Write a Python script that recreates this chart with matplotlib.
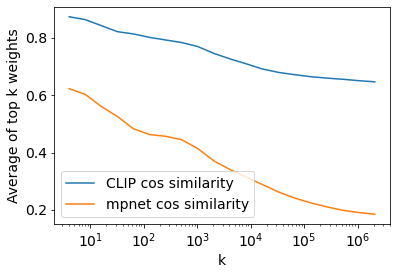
import matplotlib
matplotlib.use("Agg")
import matplotlib.pyplot as plt

k = [2**i for i in range(2, 22)]
clip = [0.874, 0.864, 0.843, 0.822, 0.814, 0.802, 0.793, 0.784, 0.770, 0.746,
        0.727, 0.710, 0.692, 0.680, 0.672, 0.665, 0.660, 0.656, 0.651, 0.647]
mpnet = [0.623, 0.603, 0.561, 0.526, 0.483, 0.463, 0.457, 0.445, 0.414, 0.371,
         0.341, 0.315, 0.289, 0.263, 0.242, 0.225, 0.211, 0.199, 0.191, 0.185]
yticks = [0.2, 0.4, 0.6, 0.8]

plt.rcParams['font.size'] = 14
fig = plt.figure(figsize=(5.5, 275/72), dpi=72)
ax = fig.add_axes([0.136, 0.185, 0.849, 0.79])
ax.plot(k, clip, label="CLIP cos similarity")
ax.plot(k, mpnet, label="mpnet cos similarity")
ax.set_xscale("log")
ax.set_yticks(yticks)
ax.set_xlabel("k")
ax.set_ylabel("Average of top k weights")
ax.legend(loc="lower left")
fig.savefig("out.png", dpi=72)
